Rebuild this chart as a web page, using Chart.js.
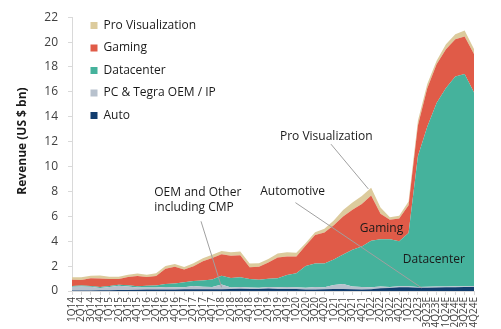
<!DOCTYPE html>
<html>
<head>
<meta charset="utf-8">
<script src="https://cdn.jsdelivr.net/npm/chart.js@4.4.0/dist/chart.umd.min.js"></script>
<style>
  html, body { margin: 0; padding: 0; background: #fff; }
</style>
</head>
<body>
<canvas id="chart" width="501" height="329"></canvas>
<script>
const quarters = [
  "1Q14","2Q14","3Q14","4Q14","1Q15","2Q15","3Q15","4Q15",
  "1Q16","2Q16","3Q16","4Q16","1Q17","2Q17","3Q17","4Q17",
  "1Q18","2Q18","3Q18","4Q18","1Q19","2Q19","3Q19","4Q19",
  "1Q20","2Q20","3Q20","4Q20","1Q21","2Q21","3Q21","4Q21",
  "1Q22","2Q22","3Q22","4Q22","1Q23","2Q23",
  "3Q23E","4Q23E","1Q24E","2Q24E","3Q24E","4Q24E"
];

// revenue by segment, US $ bn
const auto = [
  0.044,0.041,0.048,0.056, 0.064,0.071,0.080,0.093,
  0.113,0.119,0.127,0.128, 0.140,0.142,0.144,0.132,
  0.145,0.161,0.172,0.163, 0.166,0.209,0.162,0.163,
  0.155,0.111,0.125,0.145, 0.154,0.152,0.135,0.125,
  0.138,0.220,0.251,0.294, 0.296,0.253,
  0.27,0.29,0.30,0.31,0.32,0.33
];
const pcOem = [
  0.295,0.311,0.285,0.194, 0.257,0.356,0.291,0.198,
  0.173,0.163,0.186,0.176, 0.156,0.251,0.191,0.180,
  0.387,0.116,0.148,0.116, 0.099,0.111,0.143,0.152,
  0.138,0.146,0.194,0.153, 0.327,0.409,0.234,0.192,
  0.158,0.140,0.073,0.084, 0.077,0.066,
  0.07,0.07,0.07,0.07,0.07,0.07
];
const datacenter = [
  0.057,0.082,0.078,0.079, 0.079,0.074,0.083,0.097,
  0.143,0.151,0.240,0.296, 0.409,0.416,0.501,0.606,
  0.701,0.760,0.792,0.679, 0.634,0.655,0.726,0.968,
  1.141,1.752,1.900,1.903, 2.048,2.366,2.936,3.263,
  3.750,3.806,3.833,3.616, 4.284,10.5,
  12.85,14.75,15.95,16.85,17.05,15.55
];
const gaming = [
  0.509,0.456,0.606,0.683, 0.562,0.472,0.661,0.810,
  0.687,0.781,1.244,1.348, 1.027,1.186,1.561,1.739,
  1.723,1.805,1.764,0.954, 1.055,1.313,1.659,1.491,
  1.339,1.654,2.271,2.495, 2.760,3.061,3.221,3.420,
  3.620,2.042,1.574,1.831, 2.240,2.486,
  3.1,3.1,3.1,3.0,3.0,3.1
];
const proViz = [
  0.198,0.213,0.208,0.239, 0.189,0.180,0.190,0.203,
  0.189,0.214,0.207,0.225, 0.205,0.235,0.239,0.254,
  0.251,0.281,0.305,0.293, 0.266,0.291,0.324,0.331,
  0.307,0.203,0.236,0.307, 0.372,0.519,0.577,0.643,
  0.622,0.496,0.200,0.226, 0.295,0.379,
  0.35,0.3,0.4,0.4,0.5,0.4
];
const yTicks = [0,2,4,6,8,10,12,14,16,18,20,22];

// callouts, placed in data units (category index, value)
const notes = [
  { text: ["Pro Visualization"], at: [27.2, 12.4], from: [27.7, 11.8], to: [31.7, 8.2] },
  { text: ["Automotive"], at: [23.6, 8.0], from: [23.9, 7.1], to: [37.4, 0.25] },
  { text: ["OEM and Other", "including CMP"], at: [8.8, 7.9], align: 'left', from: [13.8, 5.6], to: [16.0, 0.3] },
  { text: ["Gaming"], at: [33.1, 5.0] },
  { text: ["Datacenter"], at: [38.7, 2.5] }
];

const FONT = "'Open Sans', 'Noto Sans', sans-serif";

const calloutPlugin = {
  id: 'callouts',
  afterLayout(chart) {
    // nudge the in-plot legend down/right like the original
    const lg = chart.legend;
    lg.left += 8; lg.right += 8;
    lg.top += 9; lg.bottom += 9;
  },
  afterDatasetsDraw(chart) {
    const { ctx } = chart;
    const xs = chart.scales.x, ys = chart.scales.y;
    ctx.save();
    notes.forEach(n => {
      if (n.from) {
        ctx.strokeStyle = '#a0a0a0';
        ctx.lineWidth = 1;
        ctx.beginPath();
        ctx.moveTo(xs.getPixelForValue(n.from[0]), ys.getPixelForValue(n.from[1]));
        ctx.lineTo(xs.getPixelForValue(n.to[0]), ys.getPixelForValue(n.to[1]));
        ctx.stroke();
      }
    });
    ctx.fillStyle = '#1a1a1a';
    ctx.font = "12px " + FONT;
    ctx.textBaseline = 'middle';
    notes.forEach(n => {
      ctx.textAlign = n.align || 'center';
      const cx = xs.getPixelForValue(n.at[0]);
      const cy = ys.getPixelForValue(n.at[1]);
      n.text.forEach((t, i) => ctx.fillText(t, cx, cy + i * 15));
    });
    // y axis title
    ctx.textAlign = 'center';
    ctx.font = "bold 12px " + FONT;
    ctx.translate(23, 141);
    ctx.rotate(-Math.PI / 2);
    ctx.fillText("Revenue (US $ bn)", 0, 0);
    ctx.restore();
  }
};

const series = [
  { label: 'Auto', data: auto, color: '#123d6e' },
  { label: 'PC & Tegra OEM / IP', data: pcOem, color: '#b7c1cd' },
  { label: 'Datacenter', data: datacenter, color: '#45b29c' },
  { label: 'Gaming', data: gaming, color: '#e05b48' },
  { label: 'Pro Visualization', data: proViz, color: '#dccb9d' }
];

new Chart(document.getElementById('chart'), {
  type: 'line',
  data: {
    labels: quarters,
    datasets: series.map((s, i) => ({
      label: s.label,
      data: s.data,
      backgroundColor: s.color,
      borderColor: s.color,
      borderWidth: 0,
      pointRadius: 0,
      fill: i === 0 ? 'origin' : '-1'
    }))
  },
  options: {
    responsive: false,
    animation: false,
    layout: { padding: { top: 15, right: 27, left: 0, bottom: 0 } },
    plugins: {
      tooltip: { enabled: false },
      legend: {
        position: 'chartArea',
        align: 'start',
        reverse: true,
        labels: {
          boxWidth: 7,
          boxHeight: 7,
          padding: 10.5,
          color: '#1a1a1a',
          font: { family: FONT, size: 12 }
        }
      }
    },
    scales: {
      x: {
        offset: false,
        grid: { drawOnChartArea: false, tickLength: 4, color: '#d9d9d9' },
        border: { color: '#d9d9d9' },
        ticks: {
          autoSkip: false,
          maxRotation: 90,
          minRotation: 90,
          padding: 2,
          color: '#404040',
          font: { family: FONT, size: 10 }
        },
        afterFit: s => { s.height = 38; }
      },
      y: {
        stacked: true,
        min: 0,
        max: 22,
        afterBuildTicks: s => { s.ticks = yTicks.map(v => ({ value: v })); },
        grid: { drawOnChartArea: false, tickLength: 4, color: '#d9d9d9' },
        border: { color: '#d9d9d9' },
        ticks: {
          padding: 10,
          color: '#404040',
          font: { family: FONT, size: 12 }
        },
        afterFit: s => { s.width = 72; }
      }
    }
  },
  plugins: [calloutPlugin]
});
</script>
</body>
</html>
